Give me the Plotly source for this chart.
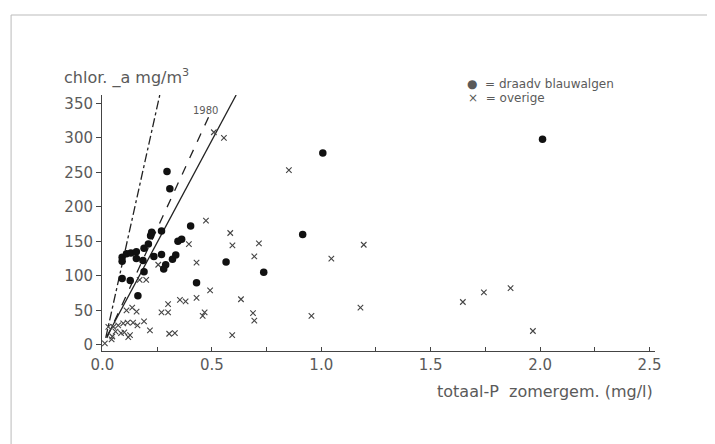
import plotly.graph_objects as go

# draadvormige blauwalgen (filled dots)
dots_x = [0.09, 0.09, 0.11, 0.13, 0.155, 0.155, 0.185, 0.19, 0.21, 0.22, 0.225,
          0.235, 0.27, 0.27, 0.289, 0.28, 0.32, 0.335, 0.345, 0.362, 0.295, 0.308,
          0.403, 0.19, 0.09, 0.127, 0.162, 0.43, 0.565, 0.737, 0.915, 1.007, 2.011]
dots_y = [127, 121, 132, 133, 135, 125, 122, 140, 146, 158, 163,
          128, 165, 131, 116, 110, 124, 130, 150, 153, 251, 226,
          172, 106, 96, 93, 71, 90, 120, 105, 160, 278, 298]

# overige (crosses)
cross_x = [0.011, 0.042, 0.045, 0.06, 0.085, 0.10, 0.118, 0.126, 0.027, 0.05,
           0.072, 0.095, 0.115, 0.14, 0.16, 0.19, 0.217, 0.11, 0.136, 0.156,
           0.17, 0.20, 0.255, 0.27, 0.30, 0.30, 0.305, 0.331, 0.354, 0.38,
           0.395, 0.43, 0.43, 0.458, 0.467, 0.473, 0.492, 0.584, 0.594, 0.593,
           0.633, 0.688, 0.694, 0.694, 0.715, 0.852, 0.955, 1.046, 1.179, 1.194,
           1.647, 1.743, 1.865, 1.967, 0.509, 0.555]
cross_y = [2, 8, 12, 19, 17, 18, 11, 14, 26, 26,
           28, 31, 32, 32, 28, 34, 21, 50, 54, 48,
           94, 94, 116, 47, 47, 59, 16, 17, 65, 63,
           146, 68, 119, 42, 47, 180, 79, 162, 144, 14,
           66, 46, 35, 128, 147, 253, 42, 125, 54, 145,
           62, 76, 82, 20, 308, 300]

# regression lines (end points)
dashdot_x = [0.015, 0.262]
dashdot_y = [10, 362]
dash1980_x = [0.02, 0.485]
dash1980_y = [10, 330]
solid_x = [0.02, 0.611]
solid_y = [12, 362]

x_tickvals = [0, 0.5, 1.0, 1.5, 2.0, 2.5]
x_ticktext = ["0.0", "0.5", "1.0", "1.5", "2.0", "2.5"]
x_minor_tickvals = [0.25, 0.75, 1.25, 1.75, 2.25]
y_tickvals = [0, 50, 100, 150, 200, 250, 300, 350]

FONT = "DejaVu Sans"
TXT = "#5a5a5a"

# page offset of the plot inside the browser body (default 8px body margin)
OFF = 8
PL, PT, PW, PH = 102, 95, 553.5, 256   # plot area as seen on screen


def px(sx):
    return (sx - PL) / PW


def py(sy):
    return (PT + PH - sy) / PH


fig = go.Figure()
fig.add_trace(go.Scatter(x=dashdot_x, y=dashdot_y, mode="lines",
                         line=dict(color="#222", width=1.3, dash="dashdot"),
                         showlegend=False, hoverinfo="skip"))
fig.add_trace(go.Scatter(x=dash1980_x, y=dash1980_y, mode="lines",
                         line=dict(color="#222", width=1.3, dash="dash"),
                         showlegend=False, hoverinfo="skip"))
fig.add_trace(go.Scatter(x=solid_x, y=solid_y, mode="lines",
                         line=dict(color="#222", width=1.3),
                         showlegend=False, hoverinfo="skip"))
fig.add_trace(go.Scatter(x=cross_x, y=cross_y, mode="markers", name="overige",
                         marker=dict(symbol="x-thin-open", size=5.5, color="#444",
                                     line=dict(width=1.1, color="#444")),
                         showlegend=False))
fig.add_trace(go.Scatter(x=dots_x, y=dots_y, mode="markers", name="draadv blauwalgen",
                         marker=dict(symbol="circle", size=7.5, color="#111"),
                         showlegend=False))

fig.update_xaxes(range=[-0.002, 2.525], tickvals=x_tickvals, ticktext=x_ticktext,
                 ticks="inside", ticklen=4, tickcolor="#444", showline=True,
                 linecolor="#444", linewidth=1, showgrid=False, zeroline=False,
                 minor=dict(tickvals=x_minor_tickvals, ticks="inside", ticklen=4,
                            tickcolor="#444", showgrid=False),
                 tickfont=dict(family=FONT, size=15, color=TXT))
fig.update_yaxes(range=[-9, 362], tickvals=y_tickvals, ticks="outside", ticklen=5,
                 tickcolor="#444", showline=True, linecolor="#444", linewidth=1,
                 showgrid=False, zeroline=False,
                 tickfont=dict(family=FONT, size=15, color=TXT))

annotations = [
    dict(text="chlor. _a mg/m<sup>3</sup>", xref="paper", yref="paper",
         x=px(62), y=py(77), xanchor="left", yanchor="middle",
         showarrow=False, font=dict(family=FONT, size=16, color=TXT)),
    dict(text="totaal-P  zomergem. (mg/l)", xref="paper", yref="paper",
         x=px(655), y=py(391), xanchor="right", yanchor="middle",
         showarrow=False, font=dict(family=FONT, size=16, color=TXT)),
    dict(text="1980", xref="x", yref="y", x=0.473, y=340, showarrow=False,
         font=dict(family=FONT, size=10, color=TXT)),
    dict(text="●  = draadv blauwalgen", xref="paper", yref="paper",
         x=px(465), y=py(84), xanchor="left", yanchor="middle",
         showarrow=False, font=dict(family=FONT, size=12, color=TXT)),
    dict(text="×  = overige", xref="paper", yref="paper",
         x=px(466), y=py(98), xanchor="left", yanchor="middle",
         showarrow=False, font=dict(family=FONT, size=12, color=TXT)),
]

fig.update_layout(
    width=715, height=444,
    margin=dict(l=PL - OFF, r=715 - (PL - OFF) - PW, t=PT - OFF, b=444 - (PT - OFF) - PH),
    plot_bgcolor="white", paper_bgcolor="white",
    annotations=annotations,
    shapes=[dict(type="rect", xref="paper", yref="paper",
                 x0=px(11), x1=px(714), y0=py(470), y1=py(15),
                 line=dict(color="#bbbbbb", width=1), layer="below")],
)

fig.write_html("out.html")
